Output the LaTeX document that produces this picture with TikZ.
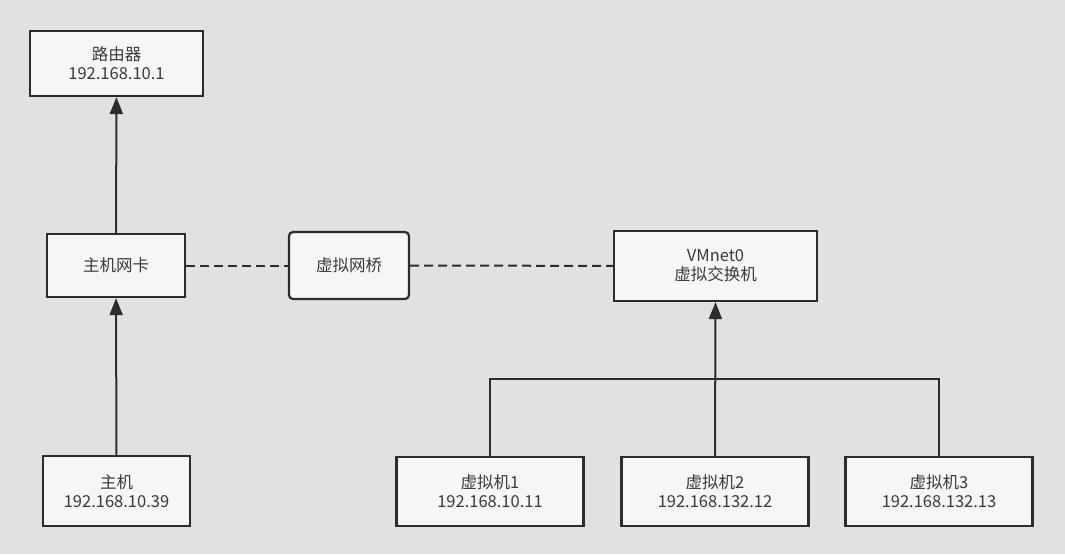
\documentclass[tikz,border=0pt]{standalone}
\usepackage{fontspec}
\setmainfont{Noto Sans CJK SC}
\usetikzlibrary{arrows.meta}
\definecolor{bg}{HTML}{E1E1E1}
\definecolor{boxfill}{HTML}{F6F6F6}
\definecolor{edge}{HTML}{2C2C2C}
\definecolor{ink}{HTML}{3A3A3A}
\begin{document}
\begin{tikzpicture}[x=1pt,y=-1pt,
  box/.style={draw=edge,fill=boxfill,line width=2.2pt,inner sep=0pt,align=center,
    text=ink,font=\fontsize{16.5}{19}\selectfont},
  link/.style={draw=edge,line width=2pt},
  up/.style={link,-{Triangle[length=17pt,width=13pt]}},
  wire/.style={link,dash pattern=on 9pt off 5pt}]
\fill[bg] (0,0) rectangle (1065,554);
\node[box,minimum width=173pt,minimum height=65pt] (router) at (116.5,63.5) {路由器\\192.168.10.1};
\node[box,minimum width=138pt,minimum height=63pt] (nic) at (116,265.5) {主机网卡};
\node[box,rounded corners=4pt,minimum width=120pt,minimum height=67pt] (bridge) at (349,265.5) {虚拟网桥};
\node[box,minimum width=203pt,minimum height=70pt] (vmnet) at (715.5,266) {VMnet0\\虚拟交换机};
\node[box,minimum width=147pt,minimum height=70pt] (host) at (116.5,491) {主机\\192.168.10.39};
\node[box,minimum width=187pt,minimum height=69pt] (vm1) at (490,491.5) {虚拟机1\\192.168.10.11};
\node[box,minimum width=187pt,minimum height=69pt] (vm2) at (715,491.5) {虚拟机2\\192.168.132.12};
\node[box,minimum width=187pt,minimum height=69pt] (vm3) at (939,491.5) {虚拟机3\\192.168.132.13};
\coordinate (bus) at (715,379);
\draw[up] (nic) -- (router);
\draw[up] (host) -- (nic);
\draw[wire] (nic) -- (bridge);
\draw[wire] (bridge) -- (vmnet);
\draw[link] (vm1.north) |- (bus) -| (vm3.north);
\draw[up] (vm2.north) -- (vmnet.south);
\end{tikzpicture}
\end{document}
